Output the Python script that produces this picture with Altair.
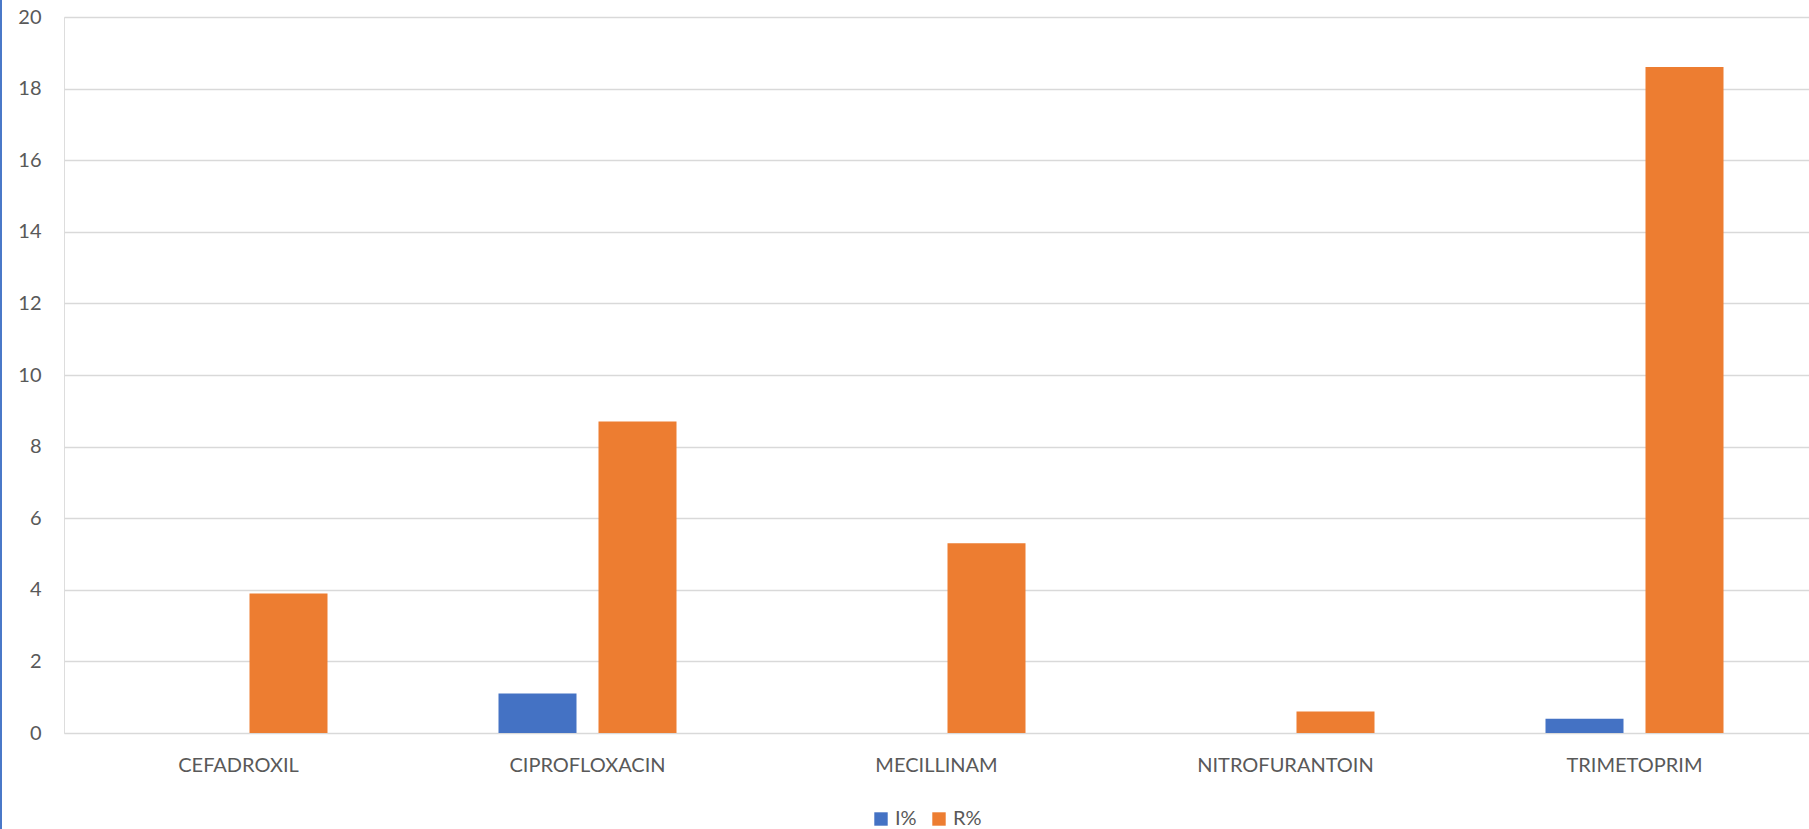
import altair as alt
import pandas as pd

# Antibiotic resistance per agent: intermediate (I%) and resistant (R%) shares
drugs = ["CEFADROXIL", "CIPROFLOXACIN", "MECILLINAM", "NITROFURANTOIN", "TRIMETOPRIM"]
i_pct = [0.0, 1.1, 0.0, 0.0, 0.4]
r_pct = [3.9, 8.7, 5.3, 0.6, 18.6]
series = ["I%", "R%"]
colors = ["#4472C4", "#ED7D31"]
y_ticks = list(range(0, 21, 2))

rows = []
for d, iv, rv in zip(drugs, i_pct, r_pct):
    rows.append({"drug": d, "series": "I%", "value": iv})
    rows.append({"drug": d, "series": "R%", "value": rv})
df = pd.DataFrame(rows)

FONT = "Lato"
W, H = 1745, 716

bars = alt.Chart(df).mark_bar(size=78).encode(
    x=alt.X(
        "drug:N",
        sort=drugs,
        title=None,
        scale=alt.Scale(paddingInner=0, paddingOuter=0),
        axis=alt.Axis(
            labelAngle=0,
            labelFont=FONT,
            labelFontSize=20,
            labelColor="#595959",
            labelPadding=22,
            ticks=False,
            domain=False,
            grid=False,
        ),
    ),
    xOffset=alt.XOffset(
        "series:N",
        sort=series,
        scale=alt.Scale(paddingInner=0.22, paddingOuter=0.855),
    ),
    y=alt.Y(
        "value:Q",
        title=None,
        scale=alt.Scale(domain=[0, 20], nice=False),
        axis=alt.Axis(
            values=y_ticks,
            labelFont=FONT,
            labelFontSize=20,
            labelColor="#595959",
            labelPadding=23,
            ticks=False,
            domain=False,
            gridColor="#D9D9D9",
            gridWidth=1.5,
        ),
    ),
    color=alt.Color(
        "series:N",
        sort=series,
        scale=alt.Scale(domain=series, range=colors),
        legend=alt.Legend(
            title=None,
            orient="none",
            direction="horizontal",
            legendX=807,
            legendY=792,
            symbolType="square",
            symbolSize=180,
            symbolStrokeWidth=0,
            labelFont=FONT,
            labelFontSize=20,
            labelColor="#595959",
            labelOffset=4,
            columnPadding=12,
            padding=0,
        ),
    ),
)

# thin blue border along the left edge of the canvas
edge = alt.Chart(pd.DataFrame({"k": [0]})).mark_rule(
    color="#4A78C8", strokeWidth=2
).encode(
    x=alt.value(-63),
    y=alt.value(-17),
    y2=alt.value(829 - 17),
)

chart = (
    alt.layer(bars, edge)
    .properties(
        width=W,
        height=H,
        autosize=alt.AutoSizeParams(type="none"),
        padding={"left": 64, "top": 17, "right": 0, "bottom": 829 - 17 - H},
    )
    .configure_view(stroke=None)
    .configure(background="white")
)

chart.save("out.html", embed_options={"renderer": "svg", "actions": False})
